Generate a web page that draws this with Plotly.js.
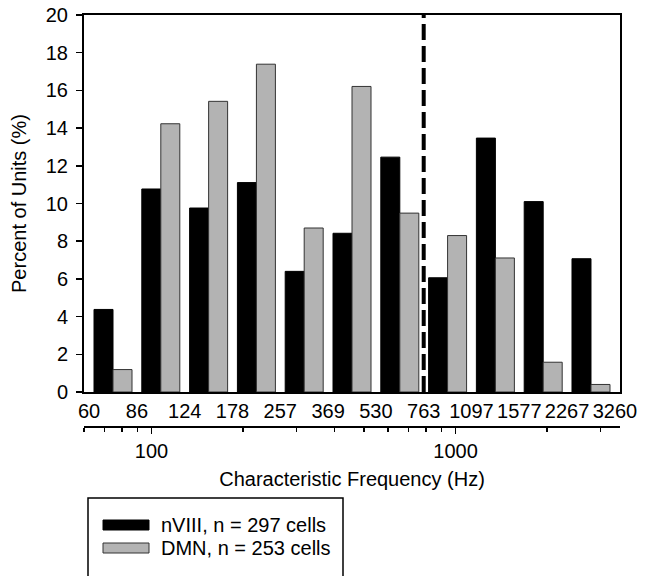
<!DOCTYPE html>
<html>
<head>
<meta charset="utf-8">
<script src="https://cdn.plot.ly/plotly-3.0.1.min.js"></script>
<style>
  html, body { margin: 0; padding: 0; background: #fff; }
  #chart { width: 646px; height: 576px; }
</style>
</head>
<body>
<div id="chart"></div>
<script>
// ---- Data ----
const binEdges = [60, 86, 124, 178, 257, 369, 530, 763, 1097, 1577, 2267, 3260];
const nVIIIPercent = [4.38, 10.77, 9.76, 11.11, 6.40, 8.42, 12.46, 6.06, 13.47, 10.10, 7.07];
const dmnPercent = [1.19, 14.23, 15.42, 17.39, 8.70, 16.21, 9.49, 8.30, 7.11, 1.58, 0.40];
const seriesNames = ['nVIII, n = 297 cells', 'DMN, n = 253 cells'];
const cutoffHz = 763;
const logMajorTicks = [100, 1000];
const logMinorTicks = [60, 70, 80, 90, 200, 300, 400, 500, 600, 700, 800, 900, 2000, 3000];

// ---- Derived positions via the category index scale ----
const binIndex = nVIIIPercent.map((_, i) => i);
const edgePos = binEdges.map((_, i) => i - 0.5);
const cutoffPos = binEdges.indexOf(cutoffHz) - 0.5;

const FONT = 'Liberation Sans, Arial, Helvetica, sans-serif';
const FS = 20;

// layout geometry (pixels)
const W = 646, H = 576;
const M = { l: 84, r: 26, t: 15, b: 149 };
const plotW = W - M.l - M.r, plotH = H - M.t - M.b;
const pxX = px => (px - M.l) / plotW;
const pxY = py => (H - M.b - py) / plotH;

const seriesStyles = [
  { color: '#000000', line: { color: '#000000', width: 1 } },
  { color: '#b3b3b3', line: { color: '#333333', width: 1 } }
];

const traces = [
  {
    type: 'bar', name: seriesNames[0], x: binIndex, y: nVIIIPercent,
    marker: seriesStyles[0], hoverinfo: 'skip', showlegend: false
  },
  {
    type: 'bar', name: seriesNames[1], x: binIndex, y: dmnPercent,
    marker: seriesStyles[1], hoverinfo: 'skip', showlegend: false
  },
  {
    type: 'scatter', x: [], y: [], xaxis: 'x2', yaxis: 'y',
    showlegend: false, hoverinfo: 'skip'
  }
];

// Legend (box + swatches + labels), drawn with shapes & annotations
const legendRows = [525, 548];
const legendShapes = [
  {
    type: 'rect', xref: 'paper', yref: 'paper',
    x0: pxX(88), x1: pxX(343), y0: pxY(498), y1: pxY(600),
    line: { color: '#000', width: 1.5 }, fillcolor: 'rgba(0,0,0,0)', layer: 'above'
  }
].concat(seriesNames.map((n, i) => ({
  type: 'rect', xref: 'paper', yref: 'paper',
  x0: pxX(103), x1: pxX(149), y0: pxY(legendRows[i] - 5), y1: pxY(legendRows[i] + 5),
  fillcolor: seriesStyles[i].color,
  line: { color: seriesStyles[i].line.color, width: 1 }, layer: 'above'
})));
const legendAnnotations = seriesNames.map((n, i) => ({
  xref: 'paper', yref: 'paper', x: pxX(159), y: pxY(legendRows[i]),
  xanchor: 'left', yanchor: 'middle', showarrow: false, text: n,
  font: { family: FONT, size: FS, color: '#000' }
}));

const layout = {
  width: W, height: H,
  margin: { l: M.l, r: M.r, t: M.t, b: M.b, autoexpand: false },
  paper_bgcolor: '#ffffff', plot_bgcolor: '#ffffff',
  font: { family: FONT, size: FS, color: '#000000' },
  barmode: 'group', bargap: 0.205, bargroupgap: 0,
  showlegend: false,
  xaxis: {
    domain: [0, 1],
    range: [-0.607, 10.607],
    tickmode: 'array', tickvals: edgePos, ticktext: binEdges.map(String),
    tickangle: 0,
    ticks: '', showgrid: false, zeroline: false,
    showline: true, linecolor: '#000', linewidth: 2, mirror: true,
    tickfont: { family: FONT, size: FS, color: '#000' },
    anchor: 'y'
  },
  xaxis2: {
    type: 'log', overlaying: 'x', anchor: 'free', position: 0,
    domain: [0, 1],
    range: [Math.log10(60), 3.541],
    tickmode: 'array', tickvals: logMajorTicks, ticktext: logMajorTicks.map(String),
    ticks: 'outside', ticklen: 6, tickwidth: 1.5, tickcolor: '#000',
    minor: { tickmode: 'array', tickvals: logMinorTicks, ticks: 'outside', ticklen: 4, tickwidth: 1.5, tickcolor: '#000', showgrid: false },
    ticklabelstandoff: 0,
    showgrid: false, zeroline: false,
    showline: true, linecolor: '#000', linewidth: 2,
    tickfont: { family: FONT, size: FS, color: '#000' },
    title: { text: 'Characteristic Frequency (Hz)', font: { family: FONT, size: FS, color: '#000' }, standoff: 10 }
  },
  yaxis: {
    domain: [pxY(392), 1],
    range: [0, 20], tickmode: 'linear', tick0: 0, dtick: 2,
    ticks: 'outside', ticklen: 6, tickwidth: 1.5, tickcolor: '#000',
    ticklabelstandoff: 4,
    showgrid: false, zeroline: false,
    showline: true, linecolor: '#000', linewidth: 2, mirror: true,
    tickfont: { family: FONT, size: FS, color: '#000' },
    title: { text: 'Percent of Units (%)', font: { family: FONT, size: FS, color: '#000' }, standoff: 14 }
  },
  shapes: [
    {
      type: 'line', xref: 'x', yref: 'y domain',
      x0: cutoffPos, x1: cutoffPos, y0: 0, y1: 1,
      line: { color: '#000', width: 4, dash: '16px,6px' }
    }
  ].concat(legendShapes),
  annotations: legendAnnotations
};

Plotly.newPlot('chart', traces, layout, { displayModeBar: false, staticPlot: true });
</script>
</body>
</html>
